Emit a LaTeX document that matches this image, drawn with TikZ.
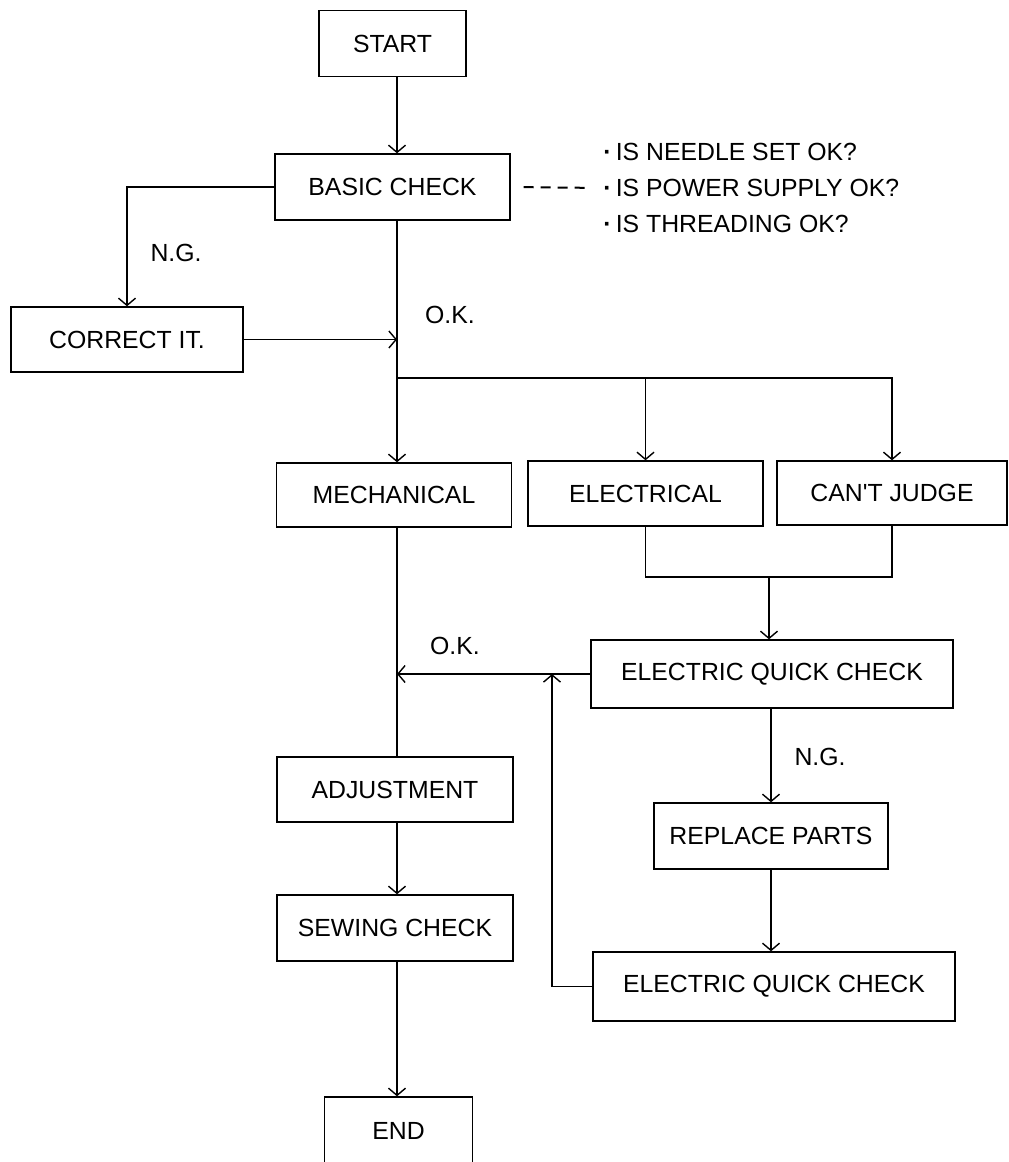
\documentclass[tikz,border=0pt]{standalone}
\usepackage{fontspec}
\setmainfont{Liberation Sans}
\usetikzlibrary{arrows.meta}

\begin{document}
\begin{tikzpicture}[
  x=0.5pt,y=-0.5pt,
  font=\fontsize{12.4pt}{18pt}\selectfont,
  box/.style={rectangle,draw=black,line width=0.7pt,minimum width=117.5pt,minimum height=33pt,inner sep=2pt,align=center},
  lbl/.style={inner sep=0pt},
  arrow/.style={-{Straight Barb[length=3.6pt,width=8.5pt]},line width=0.7pt},
  link/.style={line width=0.7pt},
  dashline/.style={line width=1pt,dash pattern=on 5pt off 3.5pt}]
  \useasboundingbox (0,0) rectangle (1008,1162);
  \coordinate (trunk) at (397,0);
  \node[box,minimum width=73.5pt] (start) at (392.5,43.5) {START};
  \node[box] (basic) at (392.5,187) {BASIC CHECK};
  \node[lbl,anchor=west,align=left] (notes) at (603,188) {\textbf{·}\,IS NEEDLE SET OK?\\\textbf{·}\,IS POWER SUPPLY OK?\\\textbf{·}\,IS THREADING OK?};
  \node[box,minimum width=116pt,minimum height=32.5pt] (correct) at (127,339.5) {CORRECT IT.};
  \node[box,minimum height=32pt] (mech) at (394,495) {MECHANICAL};
  \node[box,minimum height=32.5pt] (elec) at (645.5,493.5) {ELECTRICAL};
  \node[box,minimum width=115pt,minimum height=32pt] (cant) at (892,493) {CAN\textquotesingle T JUDGE};
  \node[box,minimum width=181pt,minimum height=34pt] (quick) at (772,674) {ELECTRIC QUICK CHECK};
  \node[box,minimum width=117pt] (replace) at (771,836) {REPLACE PARTS};
  \node[box,minimum width=181pt,minimum height=34.5pt] (recheck) at (774,986.5) {ELECTRIC QUICK CHECK};
  \node[box,minimum width=118pt,minimum height=32.5pt] (adjust) at (395,789.5) {ADJUSTMENT};
  \node[box,minimum width=118pt] (sewing) at (395,928) {SEWING CHECK};
  \node[box,minimum width=74pt,minimum height=33.5pt] (end) at (398.5,1130.5) {END};
  \node[lbl] (ng1) at (176,253) {N.G.};
  \node[lbl] (ok1) at (450,315) {O.K.};
  \node[lbl] (ok2) at (455,646) {O.K.};
  \node[lbl] (ng2) at (820,757) {N.G.};
  \coordinate (split) at (397,378);
  \coordinate (join) at (769,577);
  \coordinate (loop) at (552,674);
  \draw[arrow] (start.south -| trunk) -- (basic.north -| trunk);
  \draw[dashline,shorten <=6.5pt,shorten >=8pt] (basic.east) -- (notes.west);
  \draw[arrow] (basic.west) -| (correct.north);
  \draw[arrow] (basic.south -| trunk) -- (mech.north -| trunk);
  \draw[arrow] (correct.east) -- (correct.east -| trunk);
  \draw[arrow] (split) -| (cant.north);
  \draw[arrow] (split -| elec.north) -- (elec.north);
  \draw[link] (elec.south) -- (elec.south |- join) -- (cant.south |- join) -- (cant.south);
  \draw[arrow] (join) -- (join |- quick.north);
  \draw[link] (mech.south -| trunk) -- (adjust.north -| trunk);
  \draw[arrow] (quick.west) -- (quick.west -| trunk);
  \draw[arrow] (recheck.west) -| (loop);
  \draw[arrow] (quick.south -| replace) -- (replace.north);
  \draw[arrow] (replace.south) -- (replace.south |- recheck.north);
  \draw[arrow] (adjust.south -| trunk) -- (sewing.north -| trunk);
  \draw[arrow] (sewing.south -| trunk) -- (end.north -| trunk);
\end{tikzpicture}
\end{document}
